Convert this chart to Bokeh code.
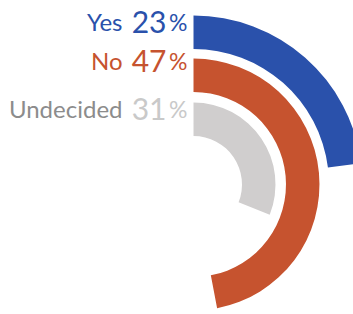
import math
from bokeh.plotting import figure
from bokeh.models import Range1d, ColumnDataSource
from bokeh.embed import file_html
from bokeh.resources import INLINE
from bokeh.core.properties import value

# ---- data ----
categories = ["Yes", "No", "Undecided"]
shares = [23, 47, 31]
ring_colors = ["#2A51AB", "#C6532F", "#D0CECE"]
label_colors = ["#2A51AB", "#C6532F", "#8C8C8C"]
number_colors = ["#2A51AB", "#C6532F", "#C9C9C9"]

# ---- layout ----
W, H = 353, 314
cx, cy = 193, 130
outer_r = [169, 126, 82]
thickness = 33.5
label_y = [293, 254, 206]
word_right = 122
digits_right = 166
pct_right = 187

start = [math.pi / 2] * 3
end = [math.pi / 2 - s / 100 * 2 * math.pi for s in shares]

src = ColumnDataSource(dict(
    x=[cx] * 3, y=[cy] * 3,
    inner=[r - thickness for r in outer_r], outer=outer_r,
    start=start, end=end, color=ring_colors,
    ly=label_y, word=categories, wcol=label_colors,
    num=[str(s) for s in shares], ncol=number_colors,
    pct=["%"] * 3,
))

p = figure(width=W, height=H, x_range=Range1d(0, W), y_range=Range1d(0, H),
           output_backend="svg", toolbar_location=None, min_border=0)
p.axis.visible = False
p.grid.visible = False
p.outline_line_color = None
p.background_fill_color = "white"
p.border_fill_color = "white"

p.annular_wedge(x="x", y="y", inner_radius="inner", outer_radius="outer",
                start_angle="start", end_angle="end", direction="clock",
                fill_color="color", line_color=None, source=src)

p.text(x=word_right, y="ly", text="word", text_color="wcol", source=src,
       text_font=value("Lato"), text_font_size="24px",
       text_align="right", text_baseline="alphabetic")
p.text(x=digits_right, y="ly", text="num", text_color="ncol", source=src,
       text_font=value("Lato"), text_font_size="30px",
       text_align="right", text_baseline="alphabetic")
p.text(x=pct_right, y="ly", text="pct", text_color="ncol", source=src,
       text_font=value("Lato"), text_font_size="23px",
       text_align="right", text_baseline="alphabetic")

open("out.html", "w").write(file_html(p, INLINE))
